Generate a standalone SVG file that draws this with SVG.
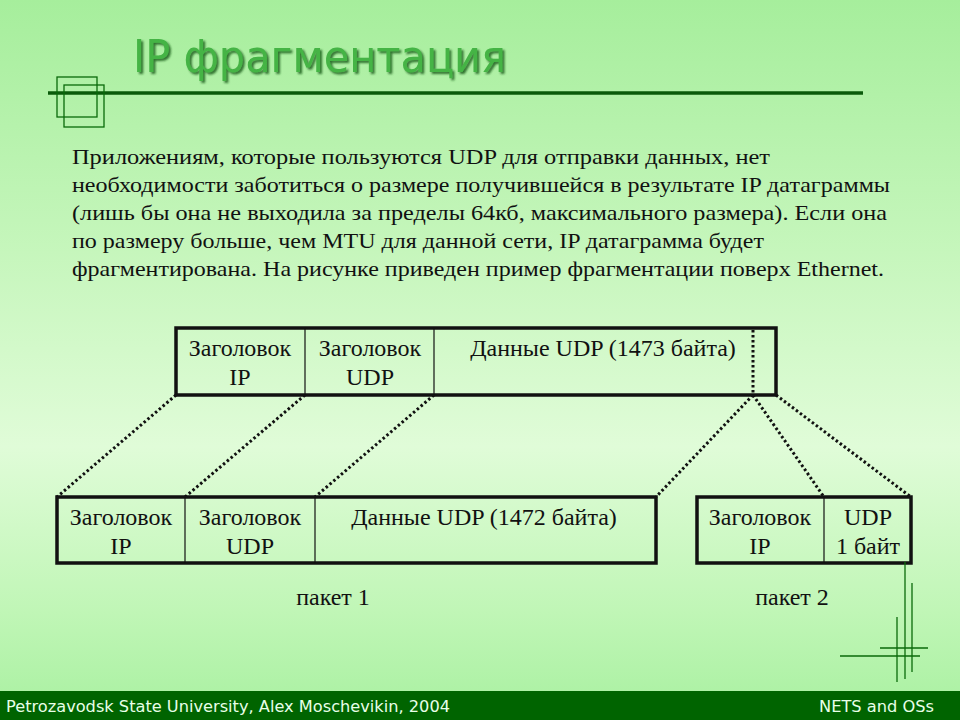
<svg xmlns="http://www.w3.org/2000/svg" width="960" height="720" viewBox="0 0 960 720">
<defs>
<linearGradient id="bg" x1="0" y1="0" x2="0" y2="1">
<stop offset="0" stop-color="#a6ee9c"/>
<stop offset="0.35" stop-color="#c6f6bc"/>
<stop offset="0.62" stop-color="#e0fcd8"/>
<stop offset="0.85" stop-color="#c0f6b6"/>
<stop offset="1" stop-color="#a8f0a0"/>
</linearGradient>
<filter id="sh" x="-5%" y="-20%" width="110%" height="140%">
<feDropShadow dx="2" dy="2" stdDeviation="0.8" flood-color="#145c14" flood-opacity="0.85"/>
</filter>
<style>
.t{font-family:"Liberation Serif","Times New Roman",serif;font-size:21px;fill:#111}
.b{font-family:"Liberation Serif","Times New Roman",serif;font-size:24px;fill:#111;text-anchor:middle}
.box{fill:none;stroke:#111;stroke-width:3.5}
.div{stroke:#111;stroke-width:1.2}
.dot{stroke:#111;stroke-width:3;stroke-dasharray:2.5 2.5;fill:none}
.deco{stroke:#0a6a0a;stroke-width:1.3;fill:none}
.foot{font-family:"DejaVu Sans","Liberation Sans",sans-serif;font-size:16px;fill:#e8ffe8}
</style>
</defs>
<rect width="960" height="720" fill="url(#bg)"/>
<g id="title">
<text x="133" y="72" font-family="DejaVu Sans Condensed,DejaVu Sans,sans-serif" font-size="44" fill="#44b444" filter="url(#sh)" textLength="373" lengthAdjust="spacingAndGlyphs">IP фрагментация</text>
</g>
<g id="header-deco">
<line x1="48" y1="93" x2="863" y2="93" stroke="#0a5a0a" stroke-width="3.5"/>
<rect x="57" y="77" width="40" height="40" class="deco"/>
<rect x="64" y="85" width="40" height="42" class="deco"/>
</g>
<g id="body">
<text class="t" x="72" y="164" textLength="698" lengthAdjust="spacingAndGlyphs">Приложениям, которые пользуются UDP для отправки данных,  нет</text>
<text class="t" x="72" y="192" textLength="818" lengthAdjust="spacingAndGlyphs">необходимости заботиться о размере получившейся в результате IP датаграммы</text>
<text class="t" x="72" y="220" textLength="815" lengthAdjust="spacingAndGlyphs">(лишь бы она не выходила за пределы 64кб, максимального размера). Если она</text>
<text class="t" x="72" y="248" textLength="692" lengthAdjust="spacingAndGlyphs">по размеру больше, чем MTU для данной сети, IP датаграмма будет</text>
<text class="t" x="72" y="276" textLength="812" lengthAdjust="spacingAndGlyphs">фрагментирована. На рисунке приведен пример фрагментации поверх Ethernet.</text>
</g>
<g id="connectors">
<line class="dot" x1="176" y1="395" x2="57" y2="497"/>
<line class="dot" x1="305" y1="395" x2="185" y2="497"/>
<line class="dot" x1="434" y1="395" x2="315" y2="497"/>
<line class="dot" x1="753" y1="395" x2="656" y2="497"/>
<line class="dot" x1="753" y1="395" x2="824" y2="497"/>
<line class="dot" x1="776" y1="395" x2="911" y2="497"/>
</g>
<g id="datagram">
<rect class="box" x="176" y="328" width="600" height="67"/>
<line class="div" x1="305" y1="328" x2="305" y2="395"/>
<line class="div" x1="434" y1="328" x2="434" y2="395"/>
<line class="dot" x1="753" y1="330" x2="753" y2="395"/>
<text class="b" x="240" y="356">Заголовок</text>
<text class="b" x="240" y="385">IP</text>
<text class="b" x="370" y="356">Заголовок</text>
<text class="b" x="370" y="385">UDP</text>
<text class="b" x="603" y="356">Данные UDP (1473 байта)</text>
</g>
<g id="packet1">
<rect class="box" x="57" y="497" width="599" height="66"/>
<line class="div" x1="185" y1="497" x2="185" y2="563"/>
<line class="div" x1="315" y1="497" x2="315" y2="563"/>
<text class="b" x="121" y="525">Заголовок</text>
<text class="b" x="121" y="554">IP</text>
<text class="b" x="250" y="525">Заголовок</text>
<text class="b" x="250" y="554">UDP</text>
<text class="b" x="484" y="525">Данные UDP (1472 байта)</text>
<text class="b" x="333" y="605">пакет 1</text>
</g>
<g id="packet2">
<rect class="box" x="697" y="497" width="214" height="66"/>
<line class="div" x1="824" y1="497" x2="824" y2="563"/>
<text class="b" x="760" y="525">Заголовок</text>
<text class="b" x="760" y="554">IP</text>
<text class="b" x="868" y="525">UDP</text>
<text class="b" x="868" y="554">1 байт</text>
<text class="b" x="792" y="605">пакет 2</text>
</g>
<g id="corner-deco">
<line class="deco" x1="905" y1="562" x2="905" y2="679"/>
<line class="deco" x1="912" y1="583" x2="912" y2="672"/>
<line class="deco" x1="897" y1="617" x2="897" y2="682"/>
<line class="deco" x1="880" y1="648" x2="928" y2="648"/>
<line class="deco" x1="840" y1="656" x2="920" y2="656"/>
</g>
<g id="footer">
<rect x="0" y="691" width="960" height="29" fill="#006400"/>
<text class="foot" x="6" y="712" textLength="444" lengthAdjust="spacingAndGlyphs">Petrozavodsk State University, Alex Moschevikin, 2004</text>
<text class="foot" x="934" y="712" text-anchor="end" textLength="115" lengthAdjust="spacingAndGlyphs">NETS and OSs</text>
</g>
</svg>
